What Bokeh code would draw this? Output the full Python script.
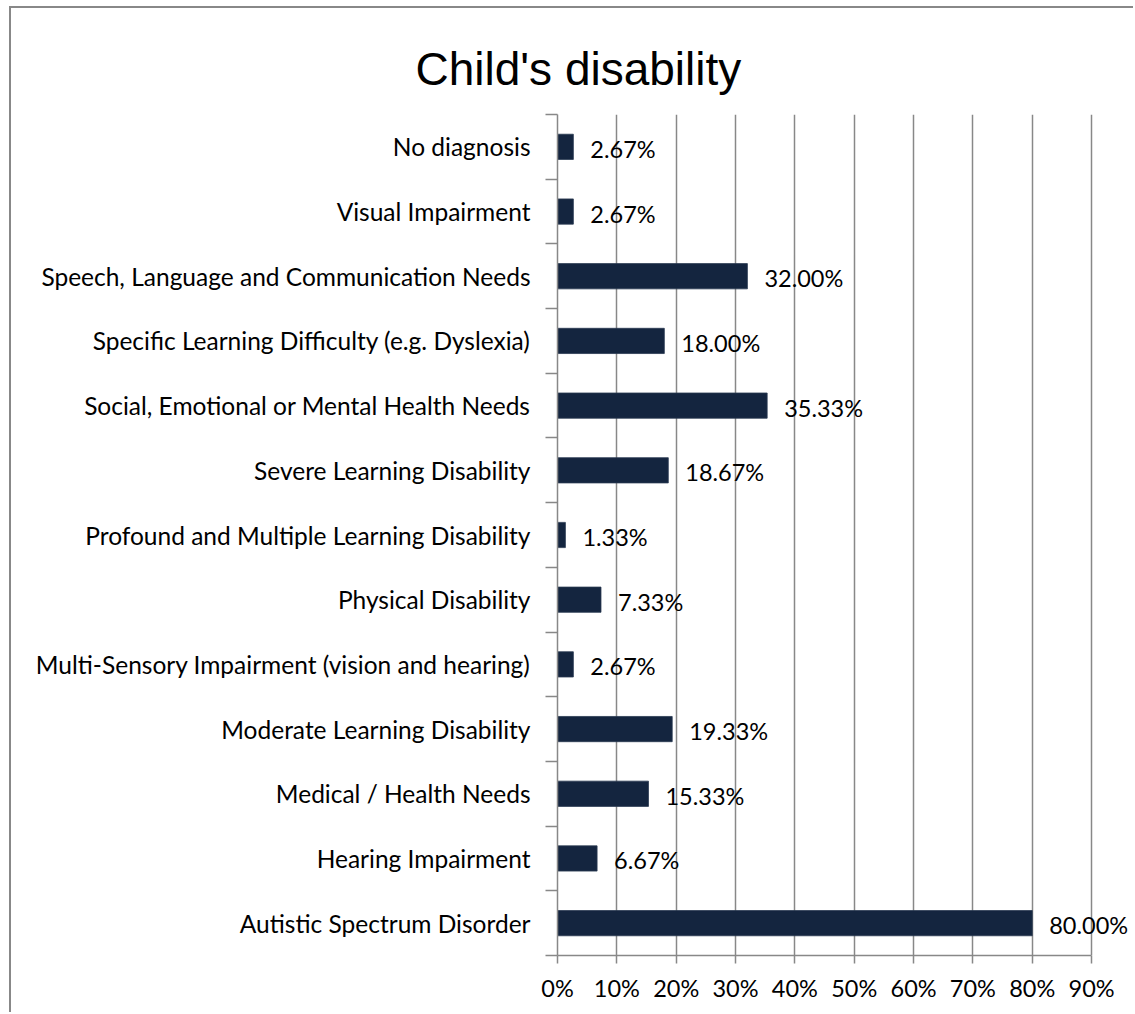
from bokeh.plotting import figure
from bokeh.models import FixedTicker, ColumnDataSource
from bokeh.core.properties import value
from bokeh.embed import file_html
from bokeh.resources import INLINE

# Categories listed bottom to top, with the share of respondents (%)
categories = [
    "Autistic Spectrum Disorder",
    "Hearing Impairment",
    "Medical / Health Needs",
    "Moderate Learning Disability",
    "Multi-Sensory Impairment (vision and hearing)",
    "Physical Disability",
    "Profound and Multiple Learning Disability",
    "Severe Learning Disability",
    "Social, Emotional or Mental Health Needs",
    "Specific Learning Difficulty (e.g. Dyslexia)",
    "Speech, Language and Communication Needs",
    "Visual Impairment",
    "No diagnosis",
]
percentages = [80.00, 6.67, 15.33, 19.33, 2.67, 7.33, 1.33, 18.67, 35.33, 18.00, 32.00, 2.67, 2.67]
x_ticks = [0, 10, 20, 30, 40, 50, 60, 70, 80, 90]
x_tick_labels = [f"{t}%" for t in x_ticks]

# canvas sits inside a thin grey border on its left and top
OFF_X, OFF_Y = 11, 8
W, H = 1135 - OFF_X, 1014 - OFF_Y
LABEL_FONT = "Lato"
GREY = "#888888"
BAR = "#14253f"

n = len(categories)
centers = [i + 0.5 for i in range(n)]

src = ColumnDataSource(dict(
    y=centers,
    right=percentages,
    label=[f"{v:.2f}%" for v in percentages],
))

p = figure(
    width=W, height=H,
    x_range=(0, 97.4), y_range=(0, n),
    output_backend="svg", toolbar_location=None,
    min_border_left=546, min_border_right=0,
    min_border_top=106, min_border_bottom=59,
)
p.styles = {
    "margin-left": "9px", "margin-top": "6px",
    "border-left": f"2px solid {GREY}", "border-top": f"2px solid {GREY}",
}
p.outline_line_color = None
p.background_fill_color = "white"
p.border_fill_color = "white"

# chart title, shifted left so it sits over the whole chart rather than the frame
p.title.text = "Child's disability"
p.title.align = "left"
p.title.offset = -142
p.title.standoff = 40
p.title.text_font = "Liberation Sans"
p.title.text_font_style = "normal"
p.title.text_font_size = "46px"
p.title.text_color = "black"

p.hbar(y="y", left=0, right="right", height=0.39, source=src,
       fill_color=BAR, line_color="#2a3a52", line_width=0.8)

p.text(x="right", y="y", text="label", source=src,
       x_offset=17, y_offset=2,
       text_font=value(LABEL_FONT), text_font_size="23.5px",
       text_color="black", text_align="left", text_baseline="middle")

# x axis: percentage ticks with outward tick marks, stopping at 90%
xa = p.xaxis[0]
xa.bounds = (0, 90)
xa.ticker = FixedTicker(ticks=x_ticks)
xa.major_label_overrides = {t: lab for t, lab in zip(x_ticks, x_tick_labels)}
xa.axis_line_color = GREY
xa.axis_line_width = 1.5
xa.major_tick_line_color = GREY
xa.major_tick_line_width = 1.5
xa.major_tick_out = 8
xa.major_tick_in = 0
xa.minor_tick_line_color = None
xa.major_label_text_font = LABEL_FONT
xa.major_label_text_font_size = "23.5px"
xa.major_label_text_color = "black"
xa.major_label_standoff = 10

# y axis: names at band centres, tick marks at band boundaries
ya = p.yaxis[0]
ya.ticker = FixedTicker(ticks=centers, minor_ticks=list(range(n + 1)))
ya.major_label_overrides = {c: name for c, name in zip(centers, categories)}
ya.axis_line_color = GREY
ya.axis_line_width = 1.5
ya.major_tick_line_color = None
ya.major_tick_out = 0
ya.major_tick_in = 0
ya.minor_tick_line_color = GREY
ya.minor_tick_line_width = 1.5
ya.minor_tick_out = 12
ya.minor_tick_in = 0
ya.major_label_text_font = LABEL_FONT
ya.major_label_text_font_size = "24.5px"
ya.major_label_text_color = "black"
ya.major_label_standoff = 15

p.xgrid.ticker = FixedTicker(ticks=x_ticks[1:])
p.xgrid.grid_line_color = GREY
p.xgrid.grid_line_width = 1.5
p.ygrid.grid_line_color = None

open("out.html", "w").write(file_html(p, INLINE))
